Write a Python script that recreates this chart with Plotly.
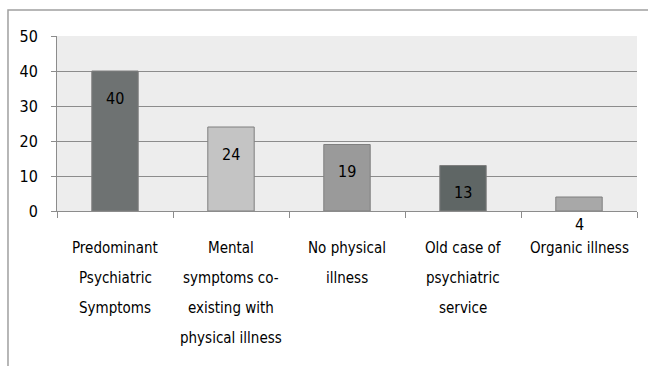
import plotly.graph_objects as go

categories = ["Predominant Psychiatric Symptoms",
              "Mental symptoms co-existing with physical illness",
              "No physical illness",
              "Old case of psychiatric service",
              "Organic illness"]
label_lines = [["Predominant", "Psychiatric", "Symptoms"],
               ["Mental", "symptoms co-", "existing with", "physical illness"],
               ["No physical", "illness"],
               ["Old case of", "psychiatric", "service"],
               ["Organic illness"]]
values = [40, 24, 19, 13, 4]
bar_colors = ["#6E7272", "#C4C4C4", "#9A9A9A", "#5F6665", "#A8A8A8"]
y_ticks = [0, 10, 20, 30, 40, 50]

FONT = "DejaVu Sans Condensed, Liberation Sans Narrow, sans-serif"

fig = go.Figure()
fig.add_trace(go.Bar(
    x=categories, y=values,
    marker=dict(color=bar_colors, line=dict(color="#7F7F7F", width=1)),
    width=0.4, showlegend=False, hoverinfo="skip",
))

annotations = []
for c, v in zip(categories, values):
    annotations.append(dict(x=c, y=v, xref="x", yref="y", text=str(v),
                            showarrow=False, yshift=-27, yanchor="middle",
                            font=dict(family=FONT, size=16, color="#000000")))
for c, lines in zip(categories, label_lines):
    for i, t in enumerate(lines):
        annotations.append(dict(x=c, y=0, xref="x", yref="y", text=t,
                                showarrow=False, yshift=-(37 + 30 * i),
                                yanchor="middle",
                                font=dict(family=FONT, size=15, color="#000000")))

fig.update_layout(
    width=648, height=366,
    margin=dict(l=57, r=11, t=36, b=155),
    paper_bgcolor="#FFFFFF",
    plot_bgcolor="#EDEDED",
    annotations=annotations,
    shapes=[dict(type="rect", xref="paper", yref="paper",
                 x0=-0.0845, x1=1.05, y0=-1.2, y1=1.148,
                 line=dict(color="#A0A0A0", width=1.5), fillcolor="rgba(0,0,0,0)",
                 layer="below")],
    xaxis=dict(showticklabels=False, ticks="outside", tickson="boundaries",
               ticklen=6, tickcolor="#8C8C8C", showline=True, linecolor="#8C8C8C",
               linewidth=1, showgrid=False, zeroline=False, fixedrange=True),
    yaxis=dict(range=[0, 50], tickvals=y_ticks, ticks="outside", ticklen=5,
               tickcolor="#8C8C8C", showgrid=True, gridcolor="#8C8C8C", gridwidth=1,
               showline=True, linecolor="#8C8C8C", zeroline=False,
               ticklabelstandoff=10,
               tickfont=dict(family=FONT, size=16, color="#000000")),
    font=dict(family=FONT),
)

fig.write_html("out.html")
